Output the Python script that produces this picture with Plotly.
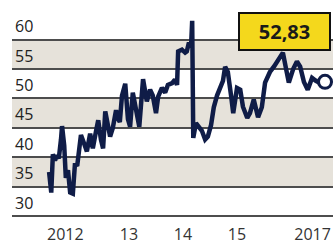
import plotly.graph_objects as go

# decimal-year time axis and index values
years = [2012.02, 2012.06, 2012.09, 2012.13, 2012.17, 2012.20, 2012.24, 2012.26, 2012.30, 2012.33,
         2012.37, 2012.41, 2012.46, 2012.50, 2012.54, 2012.57, 2012.61, 2012.67, 2012.72, 2012.78,
         2012.83, 2012.89, 2012.93, 2012.98, 2013.02, 2013.06, 2013.09, 2013.15, 2013.20, 2013.26,
         2013.30, 2013.33, 2013.37, 2013.43, 2013.48, 2013.52, 2013.57, 2013.63, 2013.69, 2013.76,
         2013.83, 2013.89, 2013.94, 2014.00, 2014.04, 2014.11, 2014.17, 2014.22, 2014.30, 2014.35,
         2014.39, 2014.41, 2014.48, 2014.54, 2014.57, 2014.61, 2014.65, 2014.67, 2014.69, 2014.74,
         2014.80, 2014.85, 2014.91, 2014.96, 2015.02, 2015.07, 2015.13, 2015.19, 2015.24, 2015.28,
         2015.33, 2015.39, 2015.43, 2015.50, 2015.56, 2015.61, 2015.69, 2015.74, 2015.81, 2015.89,
         2015.96, 2016.02, 2016.11, 2016.19, 2016.28, 2016.35, 2016.41, 2016.46, 2016.54, 2016.61,
         2016.67, 2016.74, 2016.81, 2016.89, 2016.96, 2017.04, 2017.13]
values = [37.5, 34.0, 40.5, 39.5, 40.3, 39.8, 43.0, 45.3, 42.0, 36.5,
          37.8, 34.0, 33.8, 39.0, 38.5, 41.5, 43.8, 42.3, 41.0, 44.0,
          41.5, 44.5, 46.3, 43.0, 41.5, 47.8, 46.5, 43.5, 45.0, 48.0,
          46.5, 46.0, 50.5, 52.5, 46.5, 45.2, 51.0, 48.0, 45.2, 53.3,
          49.5, 51.5, 50.5, 47.5, 50.3, 51.8, 51.0, 52.3, 52.6, 53.2,
          52.3, 58.0, 58.3, 57.8, 58.0, 59.5, 59.0, 63.2, 43.3, 45.8,
          45.0, 44.5, 43.0, 43.5, 45.5, 48.5, 50.5, 51.8, 53.0, 55.4,
          54.5, 50.5, 47.5, 51.8, 51.5, 48.6, 46.7, 47.5, 49.8, 46.8,
          48.5, 52.7, 54.5, 55.5, 57.0, 57.8, 55.0, 52.7, 55.0, 56.3,
          55.4, 52.8, 51.5, 53.5, 53.0, 52.6, 52.83]

y_ticks = [30, 35, 40, 45, 50, 55, 60]
band_ranges = [(55, 60), (45, 50), (35, 40)]
x_tick_vals = [2012.32, 2013.5, 2014.5, 2015.5, 2016.9]
x_tick_text = ["2012", "13", "14", "15", "2017"]
last_label = "52,83"

navy = "#0f1c47"
grid = "#4d4d4d"
band = "#e6e2da"
font_family = "Open Sans, Noto Sans, sans-serif"

fig = go.Figure()
fig.add_trace(go.Scatter(
    x=years, y=values, mode="lines",
    line=dict(color=navy, width=4.5, shape="linear"),
    hoverinfo="skip", showlegend=False))
fig.add_trace(go.Scatter(
    x=[years[-1]], y=[values[-1]], mode="markers",
    marker=dict(size=13, color="white", line=dict(color=navy, width=3)),
    hoverinfo="skip", showlegend=False))

for lo, hi in band_ranges:
    fig.add_shape(type="rect", xref="paper", yref="y", x0=0, x1=1, y0=lo, y1=hi,
                  fillcolor=band, line=dict(width=0), layer="below")

fig.add_annotation(
    xref="paper", yref="paper", x=1, y=1, xanchor="right", yanchor="top",
    xshift=-2, yshift=-7,
    text="<b>" + last_label + "</b>", showarrow=False,
    font=dict(family=font_family, size=20, color="#1a1a1a"),
    bgcolor="#f4d81c", bordercolor="#111111", borderwidth=2, borderpad=0,
    width=89, height=35, align="center", valign="middle")

fig.update_layout(
    width=333, height=248,
    margin=dict(l=12, r=0, t=5, b=29),
    paper_bgcolor="white", plot_bgcolor="white",
    font=dict(family=font_family, color="#222222"),
    xaxis=dict(range=[2011.333, 2017.278], showgrid=False, zeroline=False,
               tickmode="array", tickvals=x_tick_vals, ticktext=x_tick_text,
               ticks="", tickfont=dict(size=16, color="#333333"),
               ticklabelstandoff=4, showline=False, fixedrange=True),
    yaxis=dict(range=[29.5, 65.9], tickmode="array", tickvals=y_ticks,
               showgrid=True, gridcolor=grid, gridwidth=1.5, zeroline=False,
               ticks="", ticklabelposition="inside", ticklabelshift=-13,
               tickfont=dict(size=16, color="#222222"), fixedrange=True),
)

fig.write_html("out.html", config={"displayModeBar": False},
               post_script="document.body.style.margin='0';document.body.style.overflow='hidden';")
